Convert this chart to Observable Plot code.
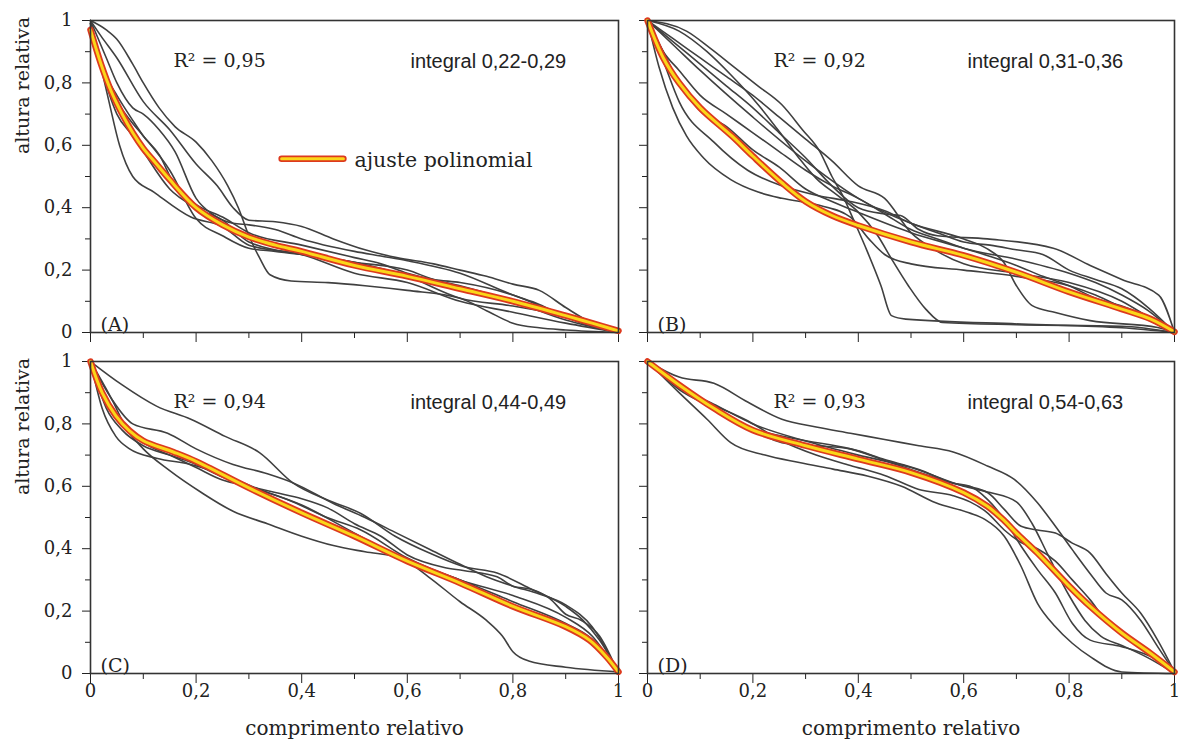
<!DOCTYPE html>
<html>
<head>
<meta charset="utf-8">
<script src="https://cdn.jsdelivr.net/npm/d3@7"></script>
<script src="https://cdn.jsdelivr.net/npm/@observablehq/plot@0.6"></script>
<style>
  html, body { margin: 0; padding: 0; background: #fff; }
  #wrap { position: relative; width: 1182px; height: 740px; background: #fff; }
</style>
</head>
<body>
<div id="wrap"></div>
<script>
// ---------------- DATA ----------------
const X_MAJOR = [0, 0.2, 0.4, 0.6, 0.8, 1];
const X_MINOR = [0.1, 0.3, 0.5, 0.7, 0.9];
const Y_MAJOR = [0, 0.2, 0.4, 0.6, 0.8, 1];
const Y_MINOR = [0.1, 0.3, 0.5, 0.7, 0.9];

const panelLetters = ["(A)", "(B)", "(C)", "(D)"];
const r2Labels = ["R² = 0,95", "R² = 0,92", "R² = 0,94", "R² = 0,93"];
const integralLabels = ["integral 0,22-0,29", "integral 0,31-0,36", "integral 0,44-0,49", "integral 0,54-0,63"];
const legendLabel = "ajuste polinomial";
const xTitle = "comprimento relativo";
const yTitle = "altura relativa";

// Panel A
const A_fit = [[0,0.97],[0.02,0.86],[0.04,0.77],[0.06,0.70],[0.08,0.64],[0.1,0.59],[0.125,0.54],[0.15,0.49],[0.2,0.40],[0.25,0.345],[0.3,0.306],[0.35,0.28],[0.4,0.26],[0.5,0.215],[0.6,0.18],[0.7,0.14],[0.8,0.10],[0.9,0.054],[0.95,0.03],[1,0.005]];
const A1 = [[0,1],[0.03,0.97],[0.05,0.94],[0.08,0.86],[0.1,0.80],[0.13,0.72],[0.16,0.66],[0.2,0.61],[0.23,0.55],[0.26,0.47],[0.28,0.40],[0.3,0.31],[0.32,0.24],[0.34,0.185],[0.38,0.165],[0.45,0.16],[0.52,0.15],[0.6,0.135],[0.7,0.11],[0.75,0.07],[0.8,0.03],[0.85,0.015],[0.9,0.008],[1,0]];
const A2 = [[0,1],[0.02,0.95],[0.05,0.88],[0.1,0.74],[0.15,0.65],[0.2,0.54],[0.24,0.47],[0.27,0.40],[0.3,0.36],[0.35,0.355],[0.4,0.34],[0.46,0.30],[0.52,0.265],[0.58,0.24],[0.65,0.22],[0.7,0.20],[0.75,0.18],[0.8,0.155],[0.85,0.135],[0.9,0.08],[0.95,0.03],[1,0]];
const A3 = [[0,1],[0.03,0.88],[0.05,0.80],[0.08,0.72],[0.1,0.70],[0.13,0.65],[0.16,0.58],[0.2,0.43],[0.23,0.38],[0.27,0.35],[0.3,0.345],[0.35,0.33],[0.4,0.30],[0.5,0.26],[0.55,0.245],[0.6,0.23],[0.7,0.19],[0.8,0.12],[0.85,0.09],[0.9,0.05],[0.95,0.02],[1,0]];
const A4 = [[0,0.99],[0.03,0.82],[0.05,0.76],[0.08,0.68],[0.1,0.63],[0.13,0.57],[0.16,0.47],[0.2,0.41],[0.25,0.37],[0.3,0.32],[0.4,0.28],[0.5,0.24],[0.55,0.22],[0.6,0.19],[0.65,0.17],[0.7,0.16],[0.8,0.12],[0.9,0.05],[1,0]];
const A5 = [[0,0.98],[0.02,0.85],[0.05,0.70],[0.08,0.63],[0.1,0.58],[0.15,0.46],[0.2,0.40],[0.25,0.36],[0.3,0.29],[0.4,0.25],[0.5,0.225],[0.6,0.18],[0.7,0.11],[0.8,0.085],[0.9,0.05],[0.95,0.02],[1,0]];
const A6 = [[0,1],[0.02,0.85],[0.035,0.74],[0.055,0.60],[0.08,0.50],[0.12,0.45],[0.19,0.37],[0.25,0.34],[0.3,0.28],[0.4,0.25],[0.5,0.19],[0.6,0.16],[0.7,0.10],[0.8,0.065],[0.9,0.03],[1,0]];
const A7 = [[0,0.99],[0.03,0.80],[0.05,0.74],[0.08,0.67],[0.1,0.63],[0.15,0.52],[0.2,0.365],[0.25,0.31],[0.3,0.27],[0.35,0.26],[0.4,0.25],[0.5,0.225],[0.6,0.20],[0.65,0.17],[0.7,0.15],[0.8,0.10],[0.9,0.04],[1,0]];

// Panel B
const B_fit = [[0,1],[0.03,0.88],[0.06,0.80],[0.1,0.72],[0.16,0.63],[0.2,0.565],[0.255,0.48],[0.3,0.42],[0.35,0.375],[0.4,0.343],[0.5,0.29],[0.6,0.247],[0.7,0.193],[0.8,0.13],[0.9,0.075],[0.955,0.043],[1,0.002]];
const B1 = [[0,1],[0.074,0.966],[0.12,0.91],[0.165,0.85],[0.21,0.79],[0.255,0.73],[0.294,0.65],[0.327,0.58],[0.35,0.50],[0.37,0.44],[0.39,0.365],[0.417,0.26],[0.443,0.15],[0.463,0.054],[0.49,0.043],[0.71,0.027],[0.9,0.015],[1,0]];
const B2 = [[0,1],[0.06,0.966],[0.113,0.90],[0.158,0.826],[0.21,0.73],[0.255,0.633],[0.288,0.558],[0.32,0.494],[0.36,0.44],[0.40,0.386],[0.437,0.31],[0.463,0.236],[0.495,0.15],[0.528,0.075],[0.56,0.032],[0.7,0.025],[0.9,0.02],[1,0]];
const B3 = [[0,1],[0.05,0.92],[0.1,0.84],[0.2,0.69],[0.3,0.55],[0.4,0.43],[0.5,0.35],[0.6,0.30],[0.645,0.268],[0.676,0.225],[0.70,0.15],[0.73,0.086],[0.774,0.064],[0.84,0.038],[0.968,0.016],[1,0]];
const B4 = [[0,1],[0.022,0.85],[0.048,0.72],[0.074,0.63],[0.106,0.56],[0.158,0.49],[0.21,0.45],[0.255,0.43],[0.32,0.41],[0.385,0.37],[0.42,0.30],[0.45,0.25],[0.5,0.22],[0.6,0.20],[0.7,0.18],[0.8,0.15],[0.85,0.12],[0.9,0.08],[0.95,0.04],[1,0]];
const B5 = [[0,1],[0.05,0.93],[0.1,0.86],[0.15,0.79],[0.2,0.72],[0.25,0.64],[0.3,0.56],[0.35,0.47],[0.40,0.40],[0.45,0.38],[0.48,0.375],[0.515,0.33],[0.55,0.31],[0.645,0.30],[0.77,0.27],[0.84,0.215],[0.9,0.17],[0.97,0.12],[1,0]];
const B6 = [[0,1],[0.03,0.87],[0.06,0.74],[0.126,0.61],[0.19,0.52],[0.255,0.47],[0.32,0.44],[0.385,0.42],[0.45,0.39],[0.5,0.35],[0.55,0.32],[0.6,0.29],[0.65,0.28],[0.7,0.265],[0.75,0.25],[0.8,0.20],[0.85,0.17],[0.9,0.14],[0.95,0.08],[1,0]];
const B7 = [[0,1],[0.03,0.90],[0.06,0.84],[0.1,0.76],[0.15,0.70],[0.2,0.64],[0.25,0.58],[0.3,0.52],[0.35,0.47],[0.4,0.43],[0.45,0.38],[0.5,0.33],[0.55,0.30],[0.6,0.27],[0.7,0.235],[0.8,0.19],[0.85,0.16],[0.9,0.12],[0.95,0.07],[1,0]];
const B8 = [[0,1],[0.03,0.90],[0.06,0.80],[0.1,0.71],[0.15,0.66],[0.2,0.585],[0.25,0.53],[0.3,0.46],[0.35,0.42],[0.4,0.385],[0.5,0.32],[0.6,0.27],[0.7,0.215],[0.75,0.18],[0.8,0.15],[0.85,0.11],[0.9,0.085],[0.95,0.05],[1,0]];
const B9 = [[0,1],[0.05,0.94],[0.1,0.88],[0.15,0.82],[0.2,0.76],[0.25,0.69],[0.3,0.62],[0.35,0.55],[0.4,0.47],[0.45,0.43],[0.5,0.32],[0.55,0.26],[0.6,0.22],[0.7,0.19],[0.8,0.16],[0.9,0.10],[0.95,0.05],[1,0]];

// Panel C
const C_fit = [[0,1],[0.022,0.90],[0.048,0.826],[0.074,0.778],[0.1,0.746],[0.157,0.71],[0.2,0.68],[0.3,0.595],[0.4,0.515],[0.5,0.44],[0.6,0.36],[0.7,0.29],[0.8,0.215],[0.9,0.15],[0.945,0.107],[0.977,0.054],[1,0.005]];
const C1 = [[0,1],[0.06,0.925],[0.125,0.857],[0.19,0.815],[0.255,0.76],[0.32,0.708],[0.384,0.61],[0.45,0.555],[0.512,0.513],[0.577,0.44],[0.642,0.386],[0.706,0.343],[0.77,0.322],[0.835,0.27],[0.9,0.215],[0.932,0.172],[0.964,0.107],[1,0.005]];
const C2 = [[0,1],[0.04,0.88],[0.08,0.80],[0.146,0.77],[0.2,0.72],[0.27,0.67],[0.335,0.64],[0.385,0.61],[0.46,0.545],[0.52,0.50],[0.58,0.45],[0.64,0.40],[0.7,0.35],[0.75,0.31],[0.8,0.28],[0.85,0.255],[0.9,0.22],[0.95,0.15],[1,0]];
const C3 = [[0,1],[0.04,0.88],[0.07,0.78],[0.1,0.72],[0.15,0.65],[0.21,0.58],[0.27,0.52],[0.335,0.48],[0.4,0.44],[0.46,0.41],[0.52,0.39],[0.587,0.37],[0.64,0.31],[0.7,0.23],[0.75,0.17],[0.78,0.12],[0.8,0.07],[0.83,0.04],[0.9,0.02],[1,0.005]];
const C4 = [[0,1],[0.022,0.85],[0.048,0.76],[0.074,0.72],[0.125,0.69],[0.19,0.67],[0.255,0.635],[0.32,0.59],[0.384,0.55],[0.448,0.50],[0.512,0.46],[0.6,0.37],[0.7,0.30],[0.8,0.25],[0.9,0.18],[0.95,0.12],[1,0]];
const C5 = [[0,1],[0.03,0.88],[0.06,0.80],[0.1,0.74],[0.15,0.70],[0.2,0.66],[0.25,0.62],[0.3,0.60],[0.35,0.58],[0.4,0.56],[0.45,0.53],[0.5,0.48],[0.55,0.44],[0.6,0.38],[0.67,0.34],[0.706,0.33],[0.77,0.31],[0.80,0.28],[0.835,0.27],[0.87,0.24],[0.9,0.19],[0.93,0.17],[0.964,0.12],[1,0]];
const C6 = [[0,1],[0.03,0.85],[0.06,0.78],[0.1,0.73],[0.15,0.70],[0.2,0.67],[0.25,0.63],[0.3,0.60],[0.4,0.54],[0.5,0.45],[0.6,0.36],[0.7,0.30],[0.8,0.23],[0.9,0.16],[0.95,0.11],[1,0]];

// Panel D
const D_fit = [[0,1],[0.06,0.925],[0.126,0.85],[0.2,0.78],[0.3,0.73],[0.4,0.687],[0.5,0.644],[0.6,0.58],[0.645,0.536],[0.677,0.49],[0.70,0.45],[0.74,0.386],[0.8,0.28],[0.84,0.215],[0.9,0.13],[0.955,0.064],[1,0.005]];
const D1 = [[0,1],[0.06,0.95],[0.126,0.93],[0.19,0.87],[0.255,0.815],[0.32,0.79],[0.385,0.77],[0.45,0.75],[0.515,0.73],[0.58,0.71],[0.645,0.665],[0.696,0.622],[0.74,0.547],[0.774,0.472],[0.806,0.397],[0.84,0.32],[0.87,0.258],[0.9,0.236],[0.936,0.17],[0.968,0.086],[1,0.005]];
const D2 = [[0,1],[0.06,0.90],[0.113,0.815],[0.158,0.74],[0.223,0.70],[0.288,0.676],[0.352,0.655],[0.417,0.633],[0.482,0.60],[0.547,0.547],[0.61,0.515],[0.64,0.494],[0.677,0.44],[0.709,0.343],[0.74,0.225],[0.774,0.15],[0.806,0.097],[0.84,0.054],[0.9,0.005],[1,0]];
const D3 = [[0,1],[0.06,0.91],[0.126,0.85],[0.19,0.79],[0.255,0.74],[0.32,0.73],[0.385,0.72],[0.45,0.686],[0.515,0.654],[0.58,0.61],[0.612,0.60],[0.645,0.558],[0.677,0.494],[0.709,0.408],[0.74,0.333],[0.774,0.258],[0.806,0.161],[0.84,0.107],[0.9,0.086],[0.968,0.043],[1,0.005]];
const D4 = [[0,1],[0.093,0.88],[0.19,0.79],[0.288,0.75],[0.385,0.72],[0.48,0.665],[0.58,0.61],[0.645,0.58],[0.677,0.526],[0.709,0.472],[0.74,0.46],[0.774,0.45],[0.806,0.418],[0.84,0.386],[0.87,0.32],[0.9,0.258],[0.936,0.193],[0.968,0.107],[1,0.005]];
const D5 = [[0,1],[0.06,0.915],[0.126,0.86],[0.19,0.81],[0.255,0.745],[0.32,0.70],[0.385,0.667],[0.45,0.635],[0.515,0.59],[0.58,0.57],[0.612,0.55],[0.645,0.515],[0.677,0.46],[0.709,0.42],[0.74,0.40],[0.774,0.36],[0.806,0.30],[0.84,0.236],[0.87,0.17],[0.9,0.128],[0.936,0.086],[1,0.005]];
const D6 = [[0,1],[0.06,0.92],[0.13,0.86],[0.2,0.80],[0.3,0.745],[0.4,0.70],[0.5,0.66],[0.6,0.60],[0.65,0.58],[0.7,0.55],[0.73,0.48],[0.76,0.38],[0.8,0.25],[0.83,0.17],[0.86,0.12],[0.9,0.09],[0.95,0.05],[1,0]];

// ---------------- LAYOUT / STYLE ----------------
const GRAY = "#404040";
const RED = "#dd3a1e";
const YELLOW = "#fbd619";
const INK = "#222";

const fmt = d => (d === 0 || d === 1) ? String(d) : d.toFixed(1).replace(".", ",");
const blank = () => "";

function panel(cfg) {
  const grayRows = cfg.grays.flatMap((s, i) => s.map(([x, y]) => ({x, y, id: i})));
  const fitRows = cfg.fit.map(([x, y]) => ({x, y}));
  const marks = [
    Plot.axisY(Y_MAJOR, {tickSize: 8, tickPadding: 10, tickFormat: cfg.yLabels ? fmt : blank, label: null, fontSize: 18}),
    Plot.axisY(Y_MINOR, {tickSize: 5, tickFormat: blank, label: null}),
    Plot.axisX(X_MAJOR, {tickSize: 10, tickPadding: 1, tickFormat: cfg.xLabels ? fmt : blank, label: null, fontSize: 18}),
    Plot.axisX(X_MINOR, {tickSize: 6, tickFormat: blank, label: null}),
    Plot.line(grayRows, {x: "x", y: "y", z: "id", stroke: GRAY, strokeWidth: 1.6, curve: "monotone-x"}),
    Plot.line(fitRows, {x: "x", y: "y", stroke: RED, strokeWidth: 6.5, curve: "catmull-rom"}),
    Plot.line(fitRows, {x: "x", y: "y", stroke: YELLOW, strokeWidth: 3, curve: "catmull-rom"}),
    Plot.frame({stroke: "#333", strokeWidth: 1.6}),
    Plot.text([cfg.r2], {frameAnchor: "top-left", dx: cfg.r2dx, dy: 46, lineAnchor: "bottom", textAnchor: "start", fontSize: 19, fill: INK}),
    Plot.text([cfg.integral], {frameAnchor: "top-left", dx: 320, dy: 47, lineAnchor: "bottom", textAnchor: "start", fontSize: 20, fontFamily: "Liberation Sans, Arial, sans-serif", fill: INK}),
    Plot.text([cfg.letter], {frameAnchor: "bottom-left", dx: 10, dy: -2, lineAnchor: "bottom", textAnchor: "start", fontSize: 19, fill: INK})
  ];
  if (cfg.legend) {
    const seg = [{x: 0.362, y: 0.557}, {x: 0.479, y: 0.557}];
    marks.push(
      Plot.line(seg, {x: "x", y: "y", stroke: RED, strokeWidth: 6.5}),
      Plot.line(seg, {x: "x", y: "y", stroke: YELLOW, strokeWidth: 3}),
      Plot.text([legendLabel], {x: () => 0.5, y: () => 0.553, textAnchor: "start", lineAnchor: "middle", fontSize: 20.5, fill: INK})
    );
  }
  if (cfg.yTitle) {
    marks.push(Plot.text([yTitle], {frameAnchor: "top-left", dx: -68, dy: 65, rotate: -90, textAnchor: "middle", lineAnchor: "middle", fontSize: 19, fill: INK}));
  }
  if (cfg.xTitle) {
    marks.push(Plot.text([xTitle], {frameAnchor: "bottom", dy: 55, lineAnchor: "middle", textAnchor: "middle", fontSize: 20, fill: INK}));
  }
  const svg = Plot.plot({
    width: cfg.width, height: cfg.height,
    marginLeft: cfg.mL, marginRight: cfg.mR, marginTop: cfg.mT, marginBottom: cfg.mB,
    x: {domain: [0, 1]},
    y: {domain: [0, 1]},
    style: {
      fontFamily: "DejaVu Serif, serif", fontSize: "18px", color: INK,
      background: "transparent", overflow: "visible",
      position: "absolute", left: cfg.left + "px", top: cfg.top + "px"
    },
    marks
  });
  document.getElementById("wrap").appendChild(svg);
}

panel({grays: [A1, A2, A3, A4, A5, A6, A7], fit: A_fit, letter: panelLetters[0], r2: r2Labels[0], integral: integralLabels[0], r2dx: 83,
  left: 0, top: 0, width: 632, height: 346, mL: 90, mR: 14, mT: 20, mB: 14, yLabels: true, xLabels: false, legend: true, yTitle: true});
panel({grays: [B1, B2, B3, B4, B5, B6, B7, B8, B9], fit: B_fit, letter: panelLetters[1], r2: r2Labels[1], integral: integralLabels[1], r2dx: 126,
  left: 632, top: 0, width: 550, height: 346, mL: 15, mR: 8, mT: 20, mB: 14, yLabels: false, xLabels: false});
panel({grays: [C1, C2, C3, C4, C5, C6], fit: C_fit, letter: panelLetters[2], r2: r2Labels[2], integral: integralLabels[2], r2dx: 83,
  left: 0, top: 346, width: 632, height: 394, mL: 90, mR: 14, mT: 15, mB: 67, yLabels: true, xLabels: true, yTitle: true, xTitle: true});
panel({grays: [D1, D2, D3, D4, D5, D6], fit: D_fit, letter: panelLetters[3], r2: r2Labels[3], integral: integralLabels[3], r2dx: 126,
  left: 632, top: 346, width: 550, height: 394, mL: 15, mR: 8, mT: 15, mB: 67, yLabels: false, xLabels: true, xTitle: true});
</script>
</body>
</html>
